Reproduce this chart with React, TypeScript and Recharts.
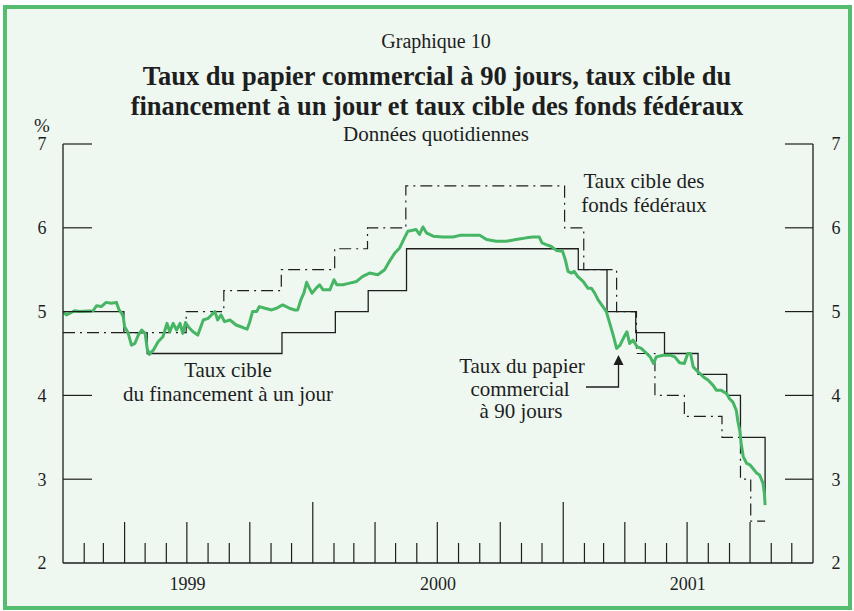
import React from "react";
import { LineChart, Line, XAxis, YAxis } from "recharts";

// Taux cible du financement à un jour (Banque du Canada)
const overnightDates = [
  "1999-01-01", "1999-03-31", "1999-05-04", "1999-11-17", "2000-02-03",
  "2000-03-22", "2000-05-17", "2001-01-23", "2001-03-06", "2001-04-17",
  "2001-05-29", "2001-07-17", "2001-08-28", "2001-09-17", "2001-10-23",
];
const overnightRates = [5.0, 4.75, 4.5, 4.75, 5.0, 5.25, 5.75, 5.5, 5.0, 4.75, 4.5, 4.25, 4.0, 3.5, 2.75];

// Taux cible des fonds fédéraux
const fedDates = [
  "1999-01-01", "1999-06-30", "1999-08-24", "1999-11-16", "2000-02-02",
  "2000-03-21", "2000-05-16", "2001-01-03", "2001-01-31", "2001-03-20",
  "2001-04-18", "2001-05-15", "2001-06-27", "2001-08-21", "2001-09-17",
  "2001-10-02", "2001-10-23",
];
const fedRates = [4.75, 5.0, 5.25, 5.5, 5.75, 6.0, 6.5, 6.0, 5.5, 5.0, 4.5, 4.0, 3.75, 3.5, 3.0, 2.5, 2.5];

// Taux du papier commercial à 90 jours
const paperRates: [string, number][] = [
  ["1999-01-01", 5.0], ["1999-01-06", 4.96], ["1999-01-11", 4.98], ["1999-01-18", 5.01],
  ["1999-01-25", 5.0], ["1999-02-14", 5.01],
  ["1999-02-19", 5.07], ["1999-02-26", 5.06], ["1999-03-05", 5.11], ["1999-03-13", 5.1],
  ["1999-03-20", 5.11], ["1999-03-24", 5.02], ["1999-03-27", 4.99], ["1999-03-30", 4.94],
  ["1999-04-01", 4.82], ["1999-04-06", 4.75], ["1999-04-11", 4.6], ["1999-04-16", 4.62],
  ["1999-04-21", 4.72], ["1999-04-26", 4.78], ["1999-05-01", 4.74], ["1999-05-04", 4.56],
  ["1999-05-07", 4.49], ["1999-05-13", 4.54], ["1999-05-20", 4.64], ["1999-05-27", 4.7],
  ["1999-06-02", 4.86], ["1999-06-06", 4.76], ["1999-06-11", 4.86], ["1999-06-16", 4.78],
  ["1999-06-21", 4.86], ["1999-06-25", 4.74], ["1999-06-29", 4.87], ["1999-07-03", 4.82],
  ["1999-07-10", 4.76], ["1999-07-17", 4.72], ["1999-07-25", 4.9], ["1999-08-01", 4.92],
  ["1999-08-06", 4.96], ["1999-08-11", 5.0], ["1999-08-15", 4.9], ["1999-08-20", 4.96],
  ["1999-08-25", 4.88], ["1999-09-02", 4.9], ["1999-09-11", 4.84], ["1999-09-21", 4.81],
  ["1999-09-27", 4.79], ["1999-10-01", 4.88], ["1999-10-05", 5.0], ["1999-10-11", 5.0],
  ["1999-10-15", 5.06], ["1999-10-23", 5.04], ["1999-11-02", 5.02], ["1999-11-09", 5.04],
  ["1999-11-18", 5.08], ["1999-11-28", 5.04], ["1999-12-05", 5.02], ["1999-12-10", 5.02],
  ["1999-12-15", 5.15], ["1999-12-19", 5.22], ["1999-12-23", 5.35], ["1999-12-27", 5.28],
  ["1999-12-31", 5.22], ["2000-01-06", 5.28], ["2000-01-11", 5.32], ["2000-01-16", 5.26],
  ["2000-01-26", 5.26], ["2000-02-01", 5.38], ["2000-02-05", 5.32], ["2000-02-14", 5.32],
  ["2000-02-24", 5.34], ["2000-03-05", 5.36], ["2000-03-14", 5.42], ["2000-03-24", 5.46],
  ["2000-04-05", 5.44], ["2000-04-15", 5.5], ["2000-04-22", 5.6], ["2000-04-30", 5.7],
  ["2000-05-07", 5.76], ["2000-05-14", 5.88], ["2000-05-19", 5.96], ["2000-05-26", 5.97],
  ["2000-05-31", 5.98], ["2000-06-05", 5.92], ["2000-06-10", 6.01], ["2000-06-15", 5.94],
  ["2000-06-25", 5.9], ["2000-07-09", 5.89], ["2000-07-24", 5.89], ["2000-08-03", 5.91],
  ["2000-08-17", 5.91], ["2000-09-01", 5.91], ["2000-09-11", 5.86], ["2000-09-25", 5.84],
  ["2000-10-10", 5.84], ["2000-10-24", 5.86], ["2000-11-08", 5.88], ["2000-11-18", 5.89],
  ["2000-11-27", 5.89], ["2000-12-01", 5.82], ["2000-12-07", 5.8], ["2000-12-14", 5.78],
  ["2000-12-22", 5.73], ["2000-12-31", 5.72], ["2001-01-04", 5.62], ["2001-01-08", 5.48],
  ["2001-01-13", 5.46], ["2001-01-17", 5.48], ["2001-01-22", 5.42], ["2001-01-30", 5.36],
  ["2001-02-06", 5.28], ["2001-02-11", 5.28], ["2001-02-16", 5.22], ["2001-02-21", 5.14],
  ["2001-02-28", 5.06], ["2001-03-05", 5.0], ["2001-03-10", 4.86], ["2001-03-15", 4.72],
  ["2001-03-20", 4.56], ["2001-03-25", 4.6], ["2001-03-31", 4.7], ["2001-04-04", 4.76],
  ["2001-04-08", 4.62], ["2001-04-13", 4.66], ["2001-04-19", 4.58], ["2001-04-25", 4.56],
  ["2001-05-03", 4.5], ["2001-05-08", 4.46], ["2001-05-13", 4.38], ["2001-05-17", 4.46],
  ["2001-05-27", 4.48], ["2001-06-06", 4.48], ["2001-06-13", 4.46], ["2001-06-20", 4.39],
  ["2001-06-27", 4.38], ["2001-07-02", 4.5], ["2001-07-06", 4.5], ["2001-07-10", 4.34],
  ["2001-07-17", 4.28], ["2001-07-25", 4.22], ["2001-08-01", 4.18], ["2001-08-08", 4.12],
  ["2001-08-13", 4.06], ["2001-08-20", 4.06], ["2001-08-28", 4.02], ["2001-09-01", 3.96],
  ["2001-09-06", 3.92], ["2001-09-11", 3.82], ["2001-09-13", 3.7], ["2001-09-16", 3.58],
  ["2001-09-18", 3.43], ["2001-09-21", 3.27], ["2001-09-26", 3.19], ["2001-10-01", 3.17],
  ["2001-10-05", 3.13], ["2001-10-11", 3.07], ["2001-10-15", 3.05], ["2001-10-20", 2.95],
  ["2001-10-22", 2.83], ["2001-10-23", 2.69],
];

const yearLabels = ["1999", "2000", "2001"];
const rateTicks = [2, 3, 4, 5, 6, 7];

const W = 854;
const H = 611;
const PLOT = { left: 63, right: 813, top: 144, bottom: 563 };
const SERIF = '"Liberation Serif", "Times New Roman", serif';
const GREEN = "#46b564";
const INK = "#1e1e1e";

const START = Date.UTC(1999, 0, 1);
const DAY = 86400000;
const dayOf = (s: string) => {
  const [y, m, d] = s.split("-").map(Number);
  return (Date.UTC(y, m - 1, d) - START) / DAY;
};
const END = dayOf("2002-01-01");

const toSeries = (dates: string[], rates: number[]) =>
  dates.map((d, i) => ({ day: dayOf(d), rate: rates[i] }));

const overnight = toSeries(overnightDates, overnightRates);
const fed = toSeries(fedDates, fedRates);
const paper = paperRates.map(([d, r]) => ({ day: dayOf(d), rate: r }));

const monthTicks: number[] = [];
for (const y of yearLabels) {
  for (let m = 1; m <= 12; m++) {
    if (y === "1999" && m === 1) continue;
    monthTicks.push(dayOf(`${y}-${String(m).padStart(2, "0")}-01`));
  }
}
const yearTicks = yearLabels.map((y) => dayOf(`${y}-07-02`));

function MonthTick(props: any) {
  const { x, payload } = props;
  const month = new Date(START + payload.value * DAY).getUTCMonth();
  const len = month === 0 ? 61 : month % 3 === 0 ? 41 : 20;
  return (
    <line x1={x} x2={x} y1={PLOT.bottom} y2={PLOT.bottom - len} stroke={INK} strokeWidth={1.2} />
  );
}

function YearTick(props: any) {
  const { x, payload } = props;
  const i = yearTicks.indexOf(payload.value);
  return (
    <text x={x} y={PLOT.bottom + 27} textAnchor="middle" fontFamily={SERIF} fontSize={18} fill={INK}>
      {yearLabels[i]}
    </text>
  );
}

function LeftTick(props: any) {
  const { y, payload } = props;
  return (
    <g>
      <text x={42} y={y} dy="0.35em" textAnchor="middle" fontFamily={SERIF} fontSize={18} fill={INK}>
        {payload.value}
      </text>
      {payload.value > 2 && (
        <line x1={PLOT.left} x2={PLOT.left + 29} y1={y} y2={y} stroke={INK} strokeWidth={1.2} />
      )}
    </g>
  );
}

function RightTick(props: any) {
  const { y, payload } = props;
  return (
    <g>
      <text x={836} y={y} dy="0.35em" textAnchor="middle" fontFamily={SERIF} fontSize={18} fill={INK}>
        {payload.value}
      </text>
      {payload.value > 2 && (
        <line x1={PLOT.right - 28} x2={PLOT.right} y1={y} y2={y} stroke={INK} strokeWidth={1.2} />
      )}
    </g>
  );
}

function Overlay() {
  const t = { fontFamily: SERIF, fill: INK, textAnchor: "middle" as const };
  return (
    <svg width={W} height={H} style={{ position: "absolute", left: 0, top: 0, pointerEvents: "none" }}>
      <text {...t} x={436} y={48} fontSize={20}>Graphique 10</text>
      <text {...t} x={437} y={85} fontSize={26.5} fontWeight="bold">
        Taux du papier commercial à 90 jours, taux cible du
      </text>
      <text {...t} x={437} y={115} fontSize={26.5} fontWeight="bold">
        financement à un jour et taux cible des fonds fédéraux
      </text>
      <text {...t} x={436} y={141} fontSize={21}>Données quotidiennes</text>
      <text {...t} x={42} y={132} fontSize={19}>%</text>

      <text {...t} x={644} y={188} fontSize={21}>Taux cible des</text>
      <text {...t} x={644} y={212} fontSize={21}>fonds fédéraux</text>

      <text {...t} x={228} y={377} fontSize={21}>Taux cible</text>
      <text {...t} x={228} y={401} fontSize={21}>du financement à un jour</text>

      <text {...t} x={522} y={373} fontSize={21}>Taux du papier</text>
      <text {...t} x={520} y={396} fontSize={21}>commercial</text>
      <text {...t} x={521} y={418} fontSize={21}>à 90 jours</text>

      <polyline points="586,387 618.5,387 618.5,362" fill="none" stroke={INK} strokeWidth={1.3} />
      <polygon points="618.5,355 613.5,365 623.5,365" fill={INK} />
    </svg>
  );
}

export default function App() {
  return (
    <div style={{ position: "absolute", left: 0, top: 0, width: W, height: H, background: "#ffffff" }}>
      <div
        style={{
          position: "absolute",
          left: 3,
          top: 5,
          width: 849,
          height: 605,
          boxSizing: "border-box",
          border: "4px solid #55bd6f",
          background: "#eef8f1",
        }}
      />
      <div style={{ position: "absolute", left: 0, top: 0 }}>
        <LineChart width={W} height={H} margin={{ top: PLOT.top, right: 11, bottom: 18, left: 33 }}>
          <XAxis
            xAxisId="m"
            dataKey="day"
            type="number"
            domain={[0, END]}
            ticks={monthTicks}
            interval={0}
            tick={<MonthTick />}
            tickLine={false}
            height={1}
            axisLine={{ stroke: INK, strokeWidth: 1.3 }}
            allowDataOverflow
          />
          <XAxis
            xAxisId="yr"
            dataKey="day"
            type="number"
            domain={[0, END]}
            ticks={yearTicks}
            interval={0}
            tick={<YearTick />}
            tickLine={false}
            axisLine={false}
            height={29}
            allowDataOverflow
          />
          <YAxis
            yAxisId="left"
            type="number"
            domain={[2, 7]}
            ticks={rateTicks}
            interval={0}
            tick={<LeftTick />}
            tickLine={false}
            width={30}
            axisLine={{ stroke: INK, strokeWidth: 1.3 }}
            allowDataOverflow
          />
          <YAxis
            yAxisId="right"
            orientation="right"
            type="number"
            domain={[2, 7]}
            ticks={rateTicks}
            interval={0}
            tick={<RightTick />}
            tickLine={false}
            width={30}
            axisLine={{ stroke: INK, strokeWidth: 1.3 }}
            allowDataOverflow
          />
          <Line
            data={fed}
            xAxisId="m"
            yAxisId="left"
            dataKey="rate"
            type="stepAfter"
            stroke={INK}
            strokeWidth={1.2}
            strokeDasharray="12 5 2 5"
            dot={false}
            isAnimationActive={false}
          />
          <Line
            data={overnight}
            xAxisId="m"
            yAxisId="left"
            dataKey="rate"
            type="stepAfter"
            stroke={INK}
            strokeWidth={1.3}
            dot={false}
            isAnimationActive={false}
          />
          <Line
            data={paper}
            xAxisId="m"
            yAxisId="left"
            dataKey="rate"
            type="linear"
            stroke={GREEN}
            strokeWidth={3}
            strokeLinejoin="round"
            dot={false}
            isAnimationActive={false}
          />
        </LineChart>
      </div>
      <Overlay />
    </div>
  );
}
